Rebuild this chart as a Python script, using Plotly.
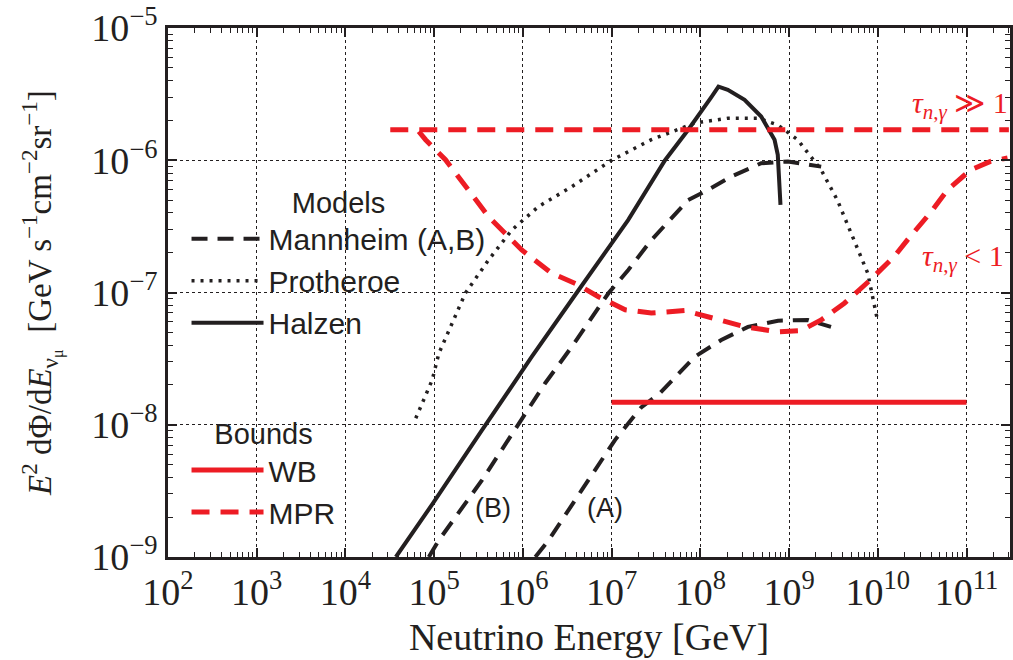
import plotly.graph_objects as go

# ---------------- data ----------------
# Mannheim model (B) - upper dashed curve
mannB_E = [8.7e4, 1.13e5, 3.46e5, 6.9e5, 1.06e6, 1.78e6, 3.56e6, 9.2e6, 1.54e7,
           2.8e7, 7.3e7, 1.22e8, 2.23e8, 4.85e8, 9.7e8, 2.3e9]
mannB_F = [1.0e-9, 1.34e-9, 3.81e-9, 7.66e-9, 1.22e-8, 2.06e-8, 3.89e-8, 9.86e-8, 1.48e-7,
           2.49e-7, 5.0e-7, 5.97e-7, 7.53e-7, 9.5e-7, 9.8e-7, 8.95e-7]
# Mannheim model (A) - lower dashed curve
mannA_E = [1.38e6, 1.95e6, 4.6e6, 1.09e7, 2.17e7, 3.5e7, 8.65e7, 1.72e8, 3.44e8,
           7.5e8, 1.62e9, 2.97e9]
mannA_F = [1.0e-9, 1.34e-9, 3.2e-9, 7.66e-9, 1.36e-8, 1.73e-8, 3.27e-8, 4.37e-8, 5.5e-8,
           6.12e-8, 6.2e-8, 5.5e-8]
# Protheroe model - dotted
proth_E = [6.2e4, 9.5e4, 1.13e5, 2.25e5, 4.1e5, 7.5e5, 1.5e6, 3.56e6, 1.0e7, 2.8e7,
           8.6e7, 2.05e8, 4.45e8, 7.46e8, 1.25e9, 2.3e9, 3.5e9, 5.4e9, 7.7e9, 9.9e9]
proth_F = [1.12e-8, 2.18e-8, 3.47e-8, 9.9e-8, 1.76e-7, 2.97e-7, 4.47e-7, 6.32e-7, 1.0e-6, 1.43e-6,
           1.91e-6, 2.08e-6, 2.08e-6, 1.85e-6, 1.43e-6, 8.45e-7, 5.0e-7, 2.5e-7, 1.4e-7, 6.2e-8]
# Halzen model - solid
halz_E = [3.7e4, 9.5e4, 3.46e5, 8.2e5, 1.26e6, 4.23e6, 1.54e7, 4.0e7, 7.3e7, 1.33e8,
          1.6e8, 2.04e8, 3.15e8, 4.85e8, 6.86e8, 7.46e8, 8.0e8]
halz_F = [1.0e-9, 2.5e-9, 9.1e-9, 2.18e-8, 3.27e-8, 1.04e-7, 3.54e-7, 1.0e-6, 1.7e-6, 3.0e-6,
          3.6e-6, 3.41e-6, 2.86e-6, 2.14e-6, 1.43e-6, 1.1e-6, 4.6e-7]
# Waxman-Bahcall bound
wb_E = [1.0e7, 1.0e11]
wb_F = [1.48e-8, 1.48e-8]
# MPR bound, tau >> 1
mprHi_E = [3.2e4, 3.0e11]
mprHi_F = [1.7e-6, 1.7e-6]
# MPR bound, tau < 1
mprLo_E = [6.7e4, 8.0e4, 1.34e5, 2.67e5, 4.1e5, 9.7e5, 2.1e6, 3.9e6, 7.1e6, 1.42e7,
           2.8e7, 6.7e7, 1.33e8, 3.2e8, 7.5e8, 1.36e9, 2.3e9, 4.2e9, 8.3e9, 1.53e10,
           2.16e10, 3.9e10, 6.1e10, 1.11e11, 1.86e11, 2.9e11]
mprLo_F = [1.65e-6, 1.43e-6, 1.01e-6, 5.6e-7, 3.75e-7, 2.1e-7, 1.40e-7, 1.17e-7, 9.3e-8, 7.4e-8,
           7.0e-8, 7.3e-8, 6.4e-8, 5.5e-8, 5.05e-8, 5.15e-8, 6.2e-8, 8.3e-8, 1.25e-7, 1.87e-7,
           2.5e-7, 4.0e-7, 5.97e-7, 8.45e-7, 9.8e-7, 1.04e-6]

x_tickvals = [1e2, 1e3, 1e4, 1e5, 1e6, 1e7, 1e8, 1e9, 1e10, 1e11]
x_ticktext = ["10<sup>2</sup>", "10<sup>3</sup>", "10<sup>4</sup>", "10<sup>5</sup>", "10<sup>6</sup>",
              "10<sup>7</sup>", "10<sup>8</sup>", "10<sup>9</sup>", "10<sup>10</sup>", "10<sup>11</sup>"]
y_tickvals = [1e-9, 1e-8, 1e-7, 1e-6, 1e-5]
y_ticktext = ["10<sup>−9</sup>", "10<sup>−8</sup>", "10<sup>−7</sup>", "10<sup>−6</sup>", "10<sup>−5</sup>"]

# ---------------- styling ----------------
BLACK = "#231f20"
RED = "#ed1c24"
SERIF = "Liberation Serif, Times New Roman, serif"
SANS = "Liberation Sans, Arial, sans-serif"
DASH_BLACK = "16px,10px"
DASH_RED = "18px,11px"
DOT = "3px,6px"

fig = go.Figure()

fig.add_trace(go.Scatter(x=mannB_E, y=mannB_F, mode="lines", name="Mannheim (A,B)",
                         line=dict(color=BLACK, width=4, dash=DASH_BLACK), legend="legend"))
fig.add_trace(go.Scatter(x=mannA_E, y=mannA_F, mode="lines", name="Mannheim (A)", showlegend=False,
                         line=dict(color=BLACK, width=4, dash=DASH_BLACK), legend="legend"))
fig.add_trace(go.Scatter(x=proth_E, y=proth_F, mode="lines", name="Protheroe",
                         line=dict(color=BLACK, width=3.5, dash=DOT), legend="legend"))
fig.add_trace(go.Scatter(x=halz_E, y=halz_F, mode="lines", name="Halzen",
                         line=dict(color=BLACK, width=4), legend="legend"))
fig.add_trace(go.Scatter(x=wb_E, y=wb_F, mode="lines", name="WB",
                         line=dict(color=RED, width=5), legend="legend2"))
fig.add_trace(go.Scatter(x=mprLo_E, y=mprLo_F, mode="lines", name="MPR",
                         line=dict(color=RED, width=5, dash=DASH_RED), legend="legend2"))
fig.add_trace(go.Scatter(x=mprHi_E, y=mprHi_F, mode="lines", name="MPR (τ≫1)", showlegend=False,
                         line=dict(color=RED, width=5, dash=DASH_RED), legend="legend2"))

minor_x = [m * 10 ** d for d in range(2, 12) for m in range(2, 10)]
minor_y = [m * 10.0 ** d for d in range(-9, -5) for m in range(2, 10)]

axis_common = dict(
    type="log",
    showline=True, linecolor=BLACK, linewidth=2.5, mirror="allticks",
    ticks="inside", ticklen=9, tickwidth=1.5, tickcolor=BLACK,
    showgrid=True, gridcolor=BLACK, gridwidth=1, griddash="dot",
    zeroline=False,
    tickfont=dict(family=SERIF, size=38, color=BLACK),
)

fig.update_xaxes(
    **axis_common,
    range=[2, 11.49],
    tickmode="array", tickvals=x_tickvals, ticktext=x_ticktext,
    minor=dict(tickmode="array", tickvals=minor_x, ticks="inside", ticklen=5,
               tickwidth=1.2, tickcolor=BLACK, showgrid=False),
    title=dict(text="Neutrino Energy [GeV]", font=dict(family=SERIF, size=38, color=BLACK), standoff=12),
)
fig.update_yaxes(
    **axis_common,
    range=[-9, -5],
    tickmode="array", tickvals=y_tickvals, ticktext=y_ticktext,
    minor=dict(tickmode="array", tickvals=minor_y, ticks="inside", ticklen=5,
               tickwidth=1.2, tickcolor=BLACK, showgrid=False),
    title=dict(text="<i>E</i><sup>2</sup> dΦ/d<i>E</i><sub>ν<sub>μ</sub></sub>  [GeV s<sup>−1</sup>cm<sup>−2</sup>sr<sup>−1</sup>]",
               font=dict(family=SERIF, size=33, color=BLACK), standoff=30),
)

legend_common = dict(
    bgcolor="rgba(0,0,0,0)", borderwidth=0,
    font=dict(family=SANS, size=30, color=BLACK),
    xanchor="left", yanchor="top", itemwidth=72, tracegroupgap=0,
)
fig.update_layout(
    legend=dict(**legend_common, x=0.022, y=0.722,
                title=dict(text="Models", side="top center", font=dict(family=SANS, size=29, color=BLACK))),
    legend2=dict(**legend_common, x=0.022, y=0.285,
                 title=dict(text="Bounds", side="top center", font=dict(family=SANS, size=29, color=BLACK))),
)

annots = [
    dict(x=5.66, y=-8.63, text="(B)", font=dict(family=SANS, size=27, color=BLACK)),
    dict(x=6.92, y=-8.63, text="(A)", font=dict(family=SANS, size=27, color=BLACK)),
]
for a in annots:
    fig.add_annotation(xref="x", yref="y", showarrow=False, **a)
fig.add_annotation(xref="paper", yref="y", x=1.0, y=-5.58, xanchor="right", showarrow=False,
                   text="<i>τ</i><sub><i>n</i>,<i>γ</i></sub> ≫ 1",
                   font=dict(family=SERIF, size=30, color=RED))
fig.add_annotation(xref="paper", yref="y", x=0.995, y=-6.74, xanchor="right", showarrow=False,
                   text="<i>τ</i><sub><i>n</i>,<i>γ</i></sub> &lt; 1",
                   font=dict(family=SERIF, size=30, color=RED))

fig.update_layout(
    width=1013, height=660,
    margin=dict(l=168, r=0, t=28, b=103),
    paper_bgcolor="white", plot_bgcolor="white",
)

fig.write_html("out.html")
